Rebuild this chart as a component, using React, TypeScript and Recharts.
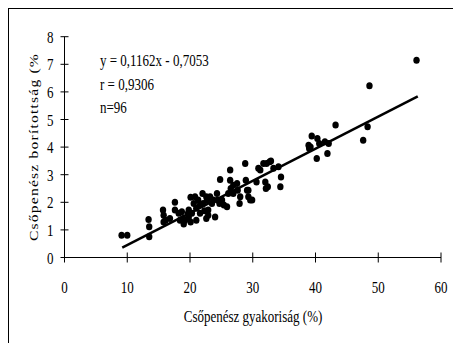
import React from "react";
import {
  ScatterChart,
  Scatter,
  XAxis,
  YAxis,
  ReferenceLine,
  Customized,
} from "recharts";

// gyakoriság (%) values
const frequency = [
  9.1, 10.0, 13.4, 13.5, 13.5, 15.7, 15.8, 15.8, 16.1, 16.8,
  17.6, 17.6, 18.2, 18.7, 18.9, 19.0, 19.2, 19.8, 19.8, 20.1,
  20.1, 20.3, 20.6, 20.8, 21.0, 21.0, 21.3, 21.6, 22.0, 22.1,
  22.3, 22.6, 22.7, 22.9, 23.2, 23.5, 23.7, 24.0, 24.3, 24.4,
  24.7, 24.8, 25.1, 25.4, 25.9, 26.1, 26.4, 26.4, 26.5, 26.9,
  27.5, 27.6, 27.9, 28.0, 28.8, 28.9, 29.1, 29.3, 29.6, 29.9,
  30.6, 30.9, 31.2, 31.7, 32.0, 32.1, 32.2, 32.4, 32.7, 32.9,
  33.3, 34.1, 34.4, 34.5, 38.9, 39.0, 39.4, 40.2, 40.3, 40.6,
  41.5, 41.9, 42.1, 43.2, 47.6, 48.3, 48.6, 56.1, 18.4, 21.6,
  22.9, 22.6, 26.9, 29.3, 39.2, 19.7,
];

// borítottság (%) values
const coverage = [
  0.81, 0.81, 1.38, 1.11, 0.75, 1.72, 1.53, 1.29, 1.35, 1.41,
  2.0, 1.72, 1.6, 1.66, 1.41, 1.21, 1.35, 1.72, 1.47, 2.18,
  1.29, 1.6, 1.96, 2.2, 1.78, 1.35, 2.08, 1.6, 2.32, 1.96,
  1.69, 1.41, 2.08, 1.72, 2.2, 1.96, 2.08, 1.47, 2.32, 2.08,
  1.96, 2.83, 2.08, 1.9, 1.84, 2.32, 3.17, 2.8, 2.5, 2.32,
  2.68, 2.44, 1.96, 2.2, 3.41, 2.8, 2.44, 2.2, 2.08, 2.08,
  2.74, 3.23, 3.17, 3.41, 2.74, 2.5, 3.41, 2.56, 3.47, 3.5,
  3.23, 3.29, 2.56, 2.92, 4.07, 3.95, 4.4, 3.59, 4.31, 4.13,
  4.19, 3.77, 4.13, 4.8, 4.25, 4.74, 6.22, 7.15, 1.35, 1.9,
  1.53, 2.2, 2.62, 2.44, 4.0, 1.6,
];

// ends of the fitted line as drawn
const trendX = [9.2, 56.3];
const trendY = [0.36, 5.84];

const xTicks = [0, 10, 20, 30, 40, 50, 60];
const yTicks = [0, 1, 2, 3, 4, 5, 6, 7, 8];

const equationLines = ["y = 0,1162x - 0,7053", "r = 0,9306", "n=96"];

const points = frequency.map((x, i) => ({ x, y: coverage[i] }));

const FONT = "'Liberation Serif', 'Times New Roman', serif";
const STRETCH = 1.35;

const XTick = (props: any) => {
  const { x, y, payload } = props;
  return (
    <g>
      <line x1={x} x2={x} y1={y - 5} y2={y + 5} stroke="#000" />
      <text
        transform={`translate(${x},${y + 35.5}) scale(1,${STRETCH})`}
        textAnchor="middle"
        fontSize={13}
        fontFamily={FONT}
        fill="#000"
      >
        {payload.value}
      </text>
    </g>
  );
};

const YTick = (props: any) => {
  const { x, y, payload } = props;
  return (
    <g>
      <line x1={x - 4} x2={x + 4} y1={y} y2={y} stroke="#000" />
      <text
        transform={`translate(${x - 11},${y + 6}) scale(1,${STRETCH})`}
        textAnchor="end"
        fontSize={13}
        fontFamily={FONT}
        fill="#000"
      >
        {payload.value}
      </text>
    </g>
  );
};

const Dot = (props: any) => {
  const { cx, cy } = props;
  return <ellipse cx={cx} cy={cy} rx={3.2} ry={3.5} fill="#000" />;
};

const Texts = () => (
  <g fontFamily={FONT} fill="#000">
    {equationLines.map((t, i) => (
      <text
        key={t}
        transform={`translate(100,${66 + i * 23.5}) scale(1,${STRETCH})`}
        fontSize={13}
      >
        {t}
      </text>
    ))}
    <text
      transform={`translate(253,322) scale(1,${STRETCH})`}
      textAnchor="middle"
      fontSize={13}
    >
      Csőpenész gyakoriság (%)
    </text>
    <text
      transform={`translate(38,147) rotate(-90) scale(1.2,1)`}
      textAnchor="middle"
      fontSize={13}
      letterSpacing={1}
    >
      Csőpenész borítottság (%
    </text>
  </g>
);

export default function App() {
  return (
    <div style={{ position: "absolute", left: 0, top: 0, width: 453, height: 343, overflow: "hidden", background: "#fff" }}>
      <div
        style={{
          position: "absolute",
          left: 8,
          top: 8,
          width: 470,
          height: 360,
          border: "1px solid #000",
          boxSizing: "border-box",
        }}
      />
      <div style={{ position: "absolute", left: 0, top: 0 }}>
        <ScatterChart
          width={453}
          height={343}
          margin={{ top: 36.7, right: 12, bottom: 35.5, left: 14.5 }}
        >
          <XAxis
            type="number"
            dataKey="x"
            domain={[0, 60]}
            ticks={xTicks}
            interval={0}
            height={50}
            stroke="#000"
            tickSize={0}
            tickMargin={0}
            tickLine={false}
            tick={<XTick />}
          />
          <YAxis
            type="number"
            dataKey="y"
            domain={[0, 8]}
            ticks={yTicks}
            interval={0}
            width={50}
            stroke="#000"
            tickSize={0}
            tickMargin={0}
            tickLine={false}
            tick={<YTick />}
          />
          <Scatter data={points} shape={<Dot />} isAnimationActive={false} />
          <ReferenceLine
            segment={[
              { x: trendX[0], y: trendY[0] },
              { x: trendX[1], y: trendY[1] },
            ]}
            stroke="#000"
            strokeWidth={2.5}
          />
          <Customized component={Texts} />
        </ScatterChart>
      </div>
    </div>
  );
}
